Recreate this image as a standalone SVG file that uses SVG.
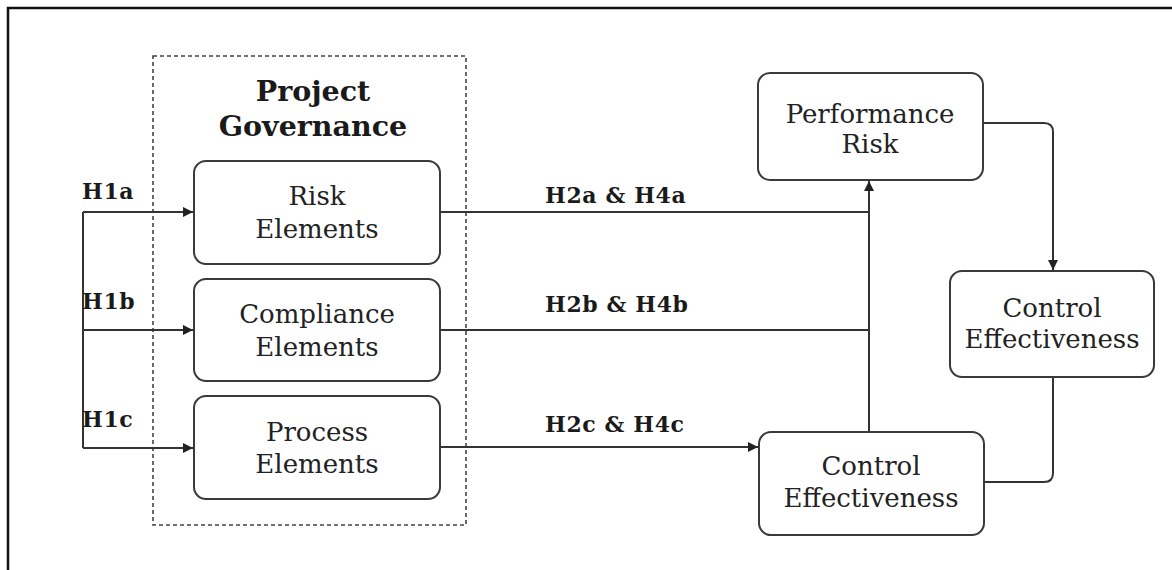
<svg xmlns="http://www.w3.org/2000/svg" width="1172" height="570" viewBox="0 0 1172 570">
  <style>
    .box { fill: #fff; stroke: #3a3a3a; stroke-width: 2; }
    .lbl { font-family: "DejaVu Serif", "Liberation Serif", serif; font-size: 26px; fill: #222; text-anchor: middle; }
    .hyp { font-family: "DejaVu Serif", "Liberation Serif", serif; font-size: 22px; font-weight: bold; fill: #1a1a1a; letter-spacing: 0.6px; }
    .title { font-family: "DejaVu Serif", "Liberation Serif", serif; font-size: 28.5px; font-weight: bold; fill: #1a1a1a; text-anchor: middle; }
    .wire { fill: none; stroke: #333; stroke-width: 2; }
    .arrow { fill: none; stroke: #333; stroke-width: 2; marker-end: url(#head); }
  </style>
  <defs>
    <marker id="head" viewBox="0 0 10 10" refX="10" refY="5" markerWidth="11" markerHeight="10" markerUnits="userSpaceOnUse" orient="auto">
      <path d="M0,0 L10,5 L0,10 z" fill="#222"/>
    </marker>
  </defs>

  <rect width="1172" height="570" fill="#fff"/>
  <!-- outer frame (top and left edges) -->
  <path d="M8,570 V8 H1172" fill="none" stroke="#111" stroke-width="2.5"/>

  <!-- governance grouping -->
  <g id="governance">
    <rect x="153" y="56" width="313" height="469" fill="none" stroke="#444" stroke-width="1.6" stroke-dasharray="4,3"/>
    <text class="title" x="313" y="101">Project</text>
    <text class="title" x="313" y="136">Governance</text>
  </g>

  <g id="connectors">
    <!-- H1 branches -->
    <path class="wire" d="M83,212 V448"/>
    <path class="arrow" d="M83,212 H193"/>
    <path class="arrow" d="M83,330 H193"/>
    <path class="arrow" d="M83,448 H193"/>
    <!-- H2/H4 paths -->
    <path class="wire" d="M440,212 H869"/>
    <path class="wire" d="M440,330 H869"/>
    <path class="arrow" d="M440,447 H758"/>
    <path class="arrow" d="M869,431 V181"/>
    <!-- performance risk to control effectiveness -->
    <path class="arrow" d="M983,123 H1044 Q1053,123 1053,132 V270"/>
    <path class="wire" d="M1053,377 V473 Q1053,482 1044,482 H983"/>
  </g>

  <g id="labels">
    <text class="hyp" x="82" y="199">H1a</text>
    <text class="hyp" x="82" y="309">H1b</text>
    <text class="hyp" x="82" y="427">H1c</text>
    <text class="hyp" x="545" y="203">H2a &amp; H4a</text>
    <text class="hyp" x="545" y="312">H2b &amp; H4b</text>
    <text class="hyp" x="545" y="432">H2c &amp; H4c</text>
  </g>

  <g id="risk-elements">
    <rect class="box" x="194" y="161" width="246" height="103" rx="12"/>
    <text class="lbl" x="317" y="205">Risk</text>
    <text class="lbl" x="317" y="238">Elements</text>
  </g>
  <g id="compliance-elements">
    <rect class="box" x="194" y="279" width="246" height="102" rx="12"/>
    <text class="lbl" x="317" y="323">Compliance</text>
    <text class="lbl" x="317" y="356">Elements</text>
  </g>
  <g id="process-elements">
    <rect class="box" x="194" y="396" width="246" height="103" rx="12"/>
    <text class="lbl" x="317" y="441">Process</text>
    <text class="lbl" x="317" y="473">Elements</text>
  </g>
  <g id="performance-risk">
    <rect class="box" x="758" y="73" width="225" height="107" rx="12"/>
    <text class="lbl" x="870" y="123">Performance</text>
    <text class="lbl" x="870" y="153">Risk</text>
  </g>
  <g id="control-effectiveness-right">
    <rect class="box" x="950" y="271" width="204" height="106" rx="12"/>
    <text class="lbl" x="1052" y="317">Control</text>
    <text class="lbl" x="1052" y="348">Effectiveness</text>
  </g>
  <g id="control-effectiveness-bottom">
    <rect class="box" x="759" y="432" width="225" height="103" rx="12"/>
    <text class="lbl" x="871" y="475">Control</text>
    <text class="lbl" x="871" y="507">Effectiveness</text>
  </g>
</svg>
